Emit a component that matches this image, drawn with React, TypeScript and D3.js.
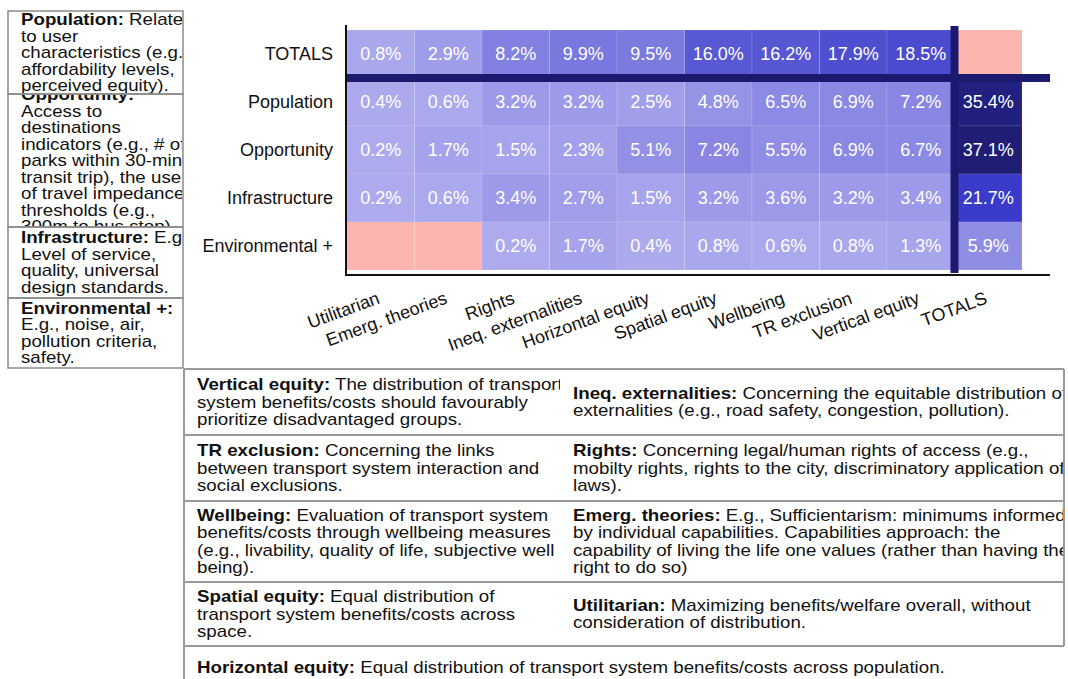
import React from 'react';
import * as d3 from 'd3';

// heatmap categories
const columns = [
  'Utilitarian',
  'Emerg. theories',
  'Rights',
  'Ineq. externalities',
  'Horizontal equity',
  'Spatial equity',
  'Wellbeing',
  'TR exclusion',
  'Vertical equity',
  'TOTALS',
];
const rowNames = ['TOTALS', 'Population', 'Opportunity', 'Infrastructure', 'Environmental +'];

// percentages per row (null = no value)
const totalsRow = [0.8, 2.9, 8.2, 9.9, 9.5, 16.0, 16.2, 17.9, 18.5, null];
const populationRow = [0.4, 0.6, 3.2, 3.2, 2.5, 4.8, 6.5, 6.9, 7.2, 35.4];
const opportunityRow = [0.2, 1.7, 1.5, 2.3, 5.1, 7.2, 5.5, 6.9, 6.7, 37.1];
const infrastructureRow = [0.2, 0.6, 3.4, 2.7, 1.5, 3.2, 3.6, 3.2, 3.4, 21.7];
const environmentalRow = [null, null, 0.2, 1.7, 0.4, 0.8, 0.6, 0.8, 1.3, 5.9];

// definitions shown next to / below the chart
const rowNotes = [
  { title: 'Population:', lines: [' Related', 'to user', 'characteristics (e.g.,', 'affordability levels,', 'perceived equity).'] },
  {
    title: 'Opportunity:',
    lines: ['', 'Access to', 'destinations', 'indicators (e.g., # of', 'parks within 30-min', 'transit trip), the use', 'of travel impedance', 'thresholds (e.g.,', '300m to bus stop).'],
  },
  { title: 'Infrastructure:', lines: [' E.g.,', 'Level of service,', 'quality, universal', 'design standards.'] },
  { title: 'Environmental +:', lines: ['', 'E.g., noise, air,', 'pollution criteria,', 'safety.'] },
];

const leftNotes = [
  { title: 'Vertical equity:', lines: [' The distribution of transport', 'system benefits/costs should favourably', 'prioritize disadvantaged groups.'] },
  { title: 'TR exclusion:', lines: [' Concerning the links', 'between transport system interaction and', 'social exclusions.'] },
  {
    title: 'Wellbeing:',
    lines: [' Evaluation of transport system', 'benefits/costs through wellbeing measures', '(e.g., livability, quality of life, subjective well', 'being).'],
  },
  { title: 'Spatial equity:', lines: [' Equal distribution of', 'transport system benefits/costs across', 'space.'] },
];
const rightNotes = [
  { title: 'Ineq. externalities:', lines: [' Concerning the equitable distribution of', 'externalities (e.g., road safety, congestion, pollution).'] },
  {
    title: 'Rights:',
    lines: [' Concerning legal/human rights of access (e.g.,', 'mobilty rights, rights to the city, discriminatory application of', 'laws).'],
  },
  {
    title: 'Emerg. theories:',
    lines: [
      ' E.g., Sufficientarism: minimums informed',
      'by individual capabilities. Capabilities approach: the',
      'capability of living the life one values (rather than having the',
      'right to do so)',
    ],
  },
  { title: 'Utilitarian:', lines: [' Maximizing benefits/welfare overall, without', 'consideration of distribution.'] },
];
const bottomNote = { title: 'Horizontal equity:', lines: [' Equal distribution of transport system benefits/costs across population.'] };

const FONT = '"Liberation Sans", Arial, sans-serif';
const NAVY = '#1c1a6e';
const NA_FILL = '#fbb4ae';

// layout of the note boxes
const sideEdges = [11, 94, 227, 298, 368];
const tableEdges = [369, 435, 501, 582, 646, 688];
const tableLeft = 184;
const tableMid = 560;
const tableRight = 1064;
const STRETCH = 1.17; // the note text is drawn wide

function NoteText({ note, x, cy, lh, size, clip }) {
  const n = note.lines.length;
  return (
    <g clipPath={`url(#${clip})`}>
      <text
        fontFamily={FONT}
        fontSize={size}
        fill="#111"
        transform={`translate(${x},0) scale(${STRETCH},1) translate(${-x},0)`}
      >
        {note.lines.map((line, i) => (
          <tspan key={i} x={x} y={cy + (i - (n - 1) / 2) * lh + size * 0.35}>
            {i === 0 ? <tspan fontWeight="bold">{note.title}</tspan> : null}
            {line}
          </tspan>
        ))}
      </text>
    </g>
  );
}

export default function App() {
  const matrix = [totalsRow, populationRow, opportunityRow, infrastructureRow, environmentalRow];
  const cells = rowNames.flatMap((r, i) => columns.map((c, j) => ({ row: r, col: c, value: matrix[i][j] })));

  const x = d3.scaleBand().domain(columns).range([347, 1022]);
  const y = d3.scaleBand().domain(rowNames).range([30, 270]);
  const color = d3
    .scaleLinear<string>()
    .domain([0, 21.7, 37.1])
    .range(['#aeacee', '#3a3acb', '#1f1d74'])
    .interpolate(d3.interpolateRgb);

  const bw = x.bandwidth();
  const bh = y.bandwidth();
  const sepY = y(rowNames[1]);
  const sepX = x('TOTALS');

  return (
    <svg width={1068} height={679} style={{ position: 'absolute', left: 0, top: 0, background: '#fff' }}>
      <defs>
        {rowNotes.map((_, i) => (
          <clipPath key={i} id={`side${i}`}>
            <rect x={8} y={sideEdges[i]} width={174} height={sideEdges[i + 1] - sideEdges[i]} />
          </clipPath>
        ))}
        {leftNotes.map((_, i) => (
          <clipPath key={i} id={`tl${i}`}>
            <rect x={tableLeft} y={tableEdges[i]} width={tableMid - tableLeft} height={tableEdges[i + 1] - tableEdges[i]} />
          </clipPath>
        ))}
        {rightNotes.map((_, i) => (
          <clipPath key={i} id={`tr${i}`}>
            <rect x={tableMid} y={tableEdges[i]} width={tableRight - tableMid} height={tableEdges[i + 1] - tableEdges[i]} />
          </clipPath>
        ))}
        <clipPath id="tb">
          <rect x={tableLeft} y={tableEdges[4]} width={900} height={60} />
        </clipPath>
      </defs>

      {/* heatmap cells */}
      {cells.map((d, i) => (
        <g key={i}>
          <rect
            x={x(d.col)}
            y={y(d.row)}
            width={bw}
            height={bh}
            fill={d.value == null ? NA_FILL : color(d.value)}
            stroke="rgba(255,255,255,0.12)"
            strokeWidth={1}
          />
          {d.value != null && (
            <text
              x={x(d.col) + bw / 2}
              y={y(d.row) + bh / 2}
              dy="0.36em"
              textAnchor="middle"
              fontFamily={FONT}
              fontSize={18}
              fill="#fff"
            >
              {d.value.toFixed(1) + '%'}
            </text>
          )}
        </g>
      ))}

      {/* separators for totals */}
      <line x1={345} x2={1050} y1={sepY} y2={sepY} stroke={NAVY} strokeWidth={8} />
      <line x1={sepX} x2={sepX} y1={26} y2={273} stroke={NAVY} strokeWidth={8} />

      {/* axes */}
      <line x1={346} x2={346} y1={25} y2={276} stroke="#111" strokeWidth={2} />
      <line x1={345} x2={1050} y1={275} y2={275} stroke="#111" strokeWidth={2} />

      {rowNames.map((r) => (
        <text key={r} x={333} y={y(r) + bh / 2} dy="0.36em" textAnchor="end" fontFamily={FONT} fontSize={18} fill="#111">
          {r}
        </text>
      ))}
      {columns.map((c) => (
        <text
          key={c}
          transform={`translate(${x(c) + bw / 2},303) rotate(-20)`}
          textAnchor="end"
          fontFamily={FONT}
          fontSize={18}
          fill="#111"
        >
          {c}
        </text>
      ))}

      {/* side notes for rows */}
      {rowNotes.map((note, i) => (
        <g key={note.title}>
          <rect x={8} y={sideEdges[i]} width={175} height={sideEdges[i + 1] - sideEdges[i]} fill="#fff" />
          <NoteText note={note} x={21} cy={(sideEdges[i] + sideEdges[i + 1]) / 2} lh={16.5} size={16} clip={`side${i}`} />
        </g>
      ))}
      {rowNotes.map((note, i) => (
        <rect
          key={note.title}
          x={8}
          y={sideEdges[i]}
          width={175}
          height={sideEdges[i + 1] - sideEdges[i]}
          fill="none"
          stroke="#8a8a8a"
          strokeWidth={1.5}
        />
      ))}

      {/* notes table for columns */}
      {leftNotes.map((note, i) => (
        <NoteText
          key={note.title}
          note={note}
          x={197}
          cy={(tableEdges[i] + tableEdges[i + 1]) / 2}
          lh={17.3}
          size={16}
          clip={`tl${i}`}
        />
      ))}
      {rightNotes.map((note, i) => (
        <NoteText
          key={note.title}
          note={note}
          x={573}
          cy={(tableEdges[i] + tableEdges[i + 1]) / 2}
          lh={17.3}
          size={16}
          clip={`tr${i}`}
        />
      ))}
      <NoteText note={bottomNote} x={197} cy={(tableEdges[4] + tableEdges[5]) / 2} lh={17.3} size={16} clip="tb" />

      {tableEdges.slice(0, 5).map((e) => (
        <line key={e} x1={tableLeft} x2={tableRight} y1={e} y2={e} stroke="#999" strokeWidth={2} />
      ))}
      <line x1={tableLeft} x2={tableLeft} y1={tableEdges[0]} y2={700} stroke="#999" strokeWidth={2} />
      <line x1={tableRight} x2={tableRight} y1={tableEdges[0]} y2={tableEdges[4]} stroke="#999" strokeWidth={2} />
    </svg>
  );
}
